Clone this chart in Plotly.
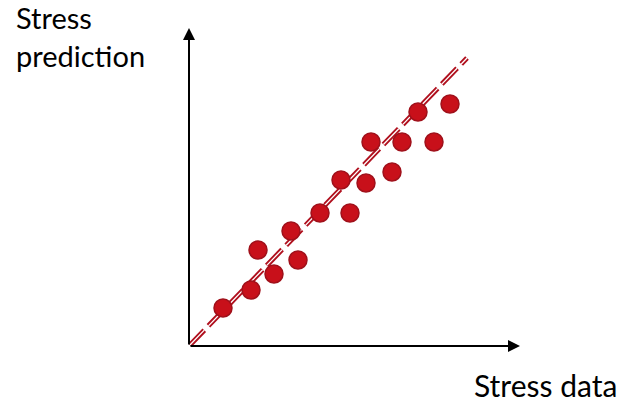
import plotly.graph_objects as go

# Data (arbitrary stress units)
stress_data = [34, 62, 69, 85, 102, 109, 131, 152, 161, 177, 182, 203, 213, 229, 245, 261]
stress_pred = [38, 56, 96, 72, 115, 86, 133, 166, 133, 163, 204, 174, 204, 234, 204, 242]
fit_x = [0, 278]
fit_y = [0, 288]

W, H = 621, 403
L, B, R, T = 189, 57, 0, 0
fig = go.Figure()

fig.add_trace(go.Scatter(x=fit_x, y=fit_y, mode="lines",
                         line=dict(color="#B0101E", width=5, dash="22px,6px"),
                         hoverinfo="skip", showlegend=False))
fig.add_trace(go.Scatter(x=fit_x, y=fit_y, mode="lines",
                         line=dict(color="white", width=1.3, dash="22px,6px"),
                         hoverinfo="skip", showlegend=False))
fig.add_trace(go.Scatter(x=stress_data, y=stress_pred, mode="markers",
                         marker=dict(size=18, color="#C8101A",
                                     line=dict(color="#A0101A", width=1.5)),
                         showlegend=False))

# axes arrows
fig.add_annotation(x=0, y=318, ax=0, ay=0, xref="x", yref="y", axref="x", ayref="y",
                   showarrow=True, arrowhead=2, arrowsize=1.2, arrowwidth=2, arrowcolor="black", text="")
fig.add_annotation(x=331, y=0, ax=0, ay=0, xref="x", yref="y", axref="x", ayref="y",
                   showarrow=True, arrowhead=2, arrowsize=1.2, arrowwidth=2, arrowcolor="black", text="")


def px(x):
    return (x - L) / (W - L - R)


def py(y):
    return (H - y - B) / (H - T - B)


fig.add_annotation(x=px(14), y=py(-1.5), xref="paper", yref="paper", text="Stress<br>prediction",
                   showarrow=False, xanchor="left", yanchor="top", align="left",
                   font=dict(family="Lato", size=29, color="black"))
fig.add_annotation(x=px(619), y=py(364.5), xref="paper", yref="paper", text="Stress data",
                   showarrow=False, xanchor="right", yanchor="top",
                   font=dict(family="Lato", size=30, color="black"))

fig.update_layout(
    width=W, height=H,
    margin=dict(l=L, r=R, t=T, b=B),
    paper_bgcolor="white", plot_bgcolor="white",
    xaxis=dict(range=[0, W - L - R], visible=False, fixedrange=True),
    yaxis=dict(range=[0, H - B - T], visible=False, fixedrange=True),
)

fig.write_html("out.html", config={"displayModeBar": False},
               post_script="document.body.style.margin='0';document.body.style.overflow='hidden';")
